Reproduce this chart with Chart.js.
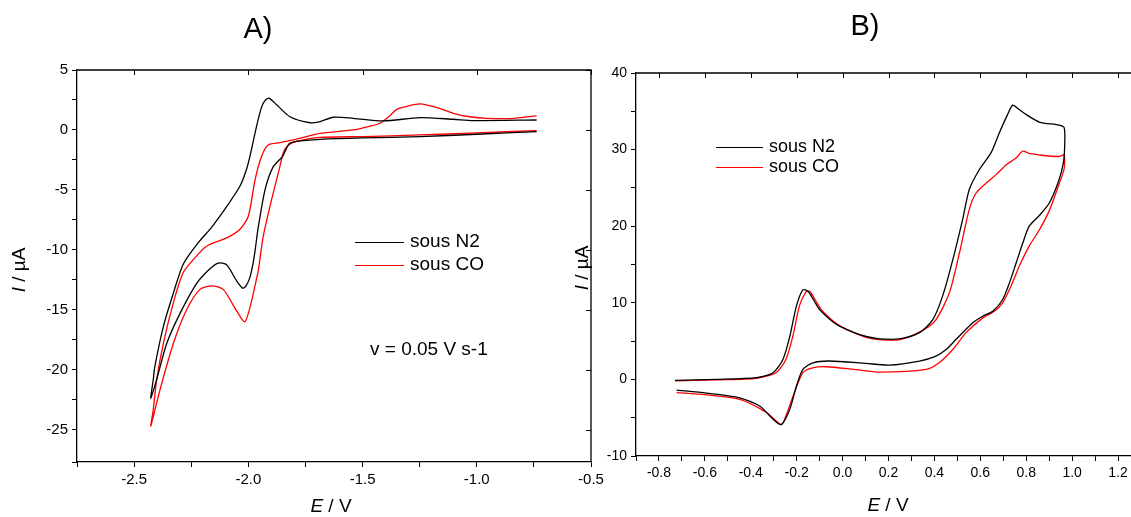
<!DOCTYPE html>
<html><head><meta charset="utf-8">
<script src="https://cdn.jsdelivr.net/npm/chart.js@4/dist/chart.umd.min.js"></script>
<style>
html,body{margin:0;padding:0;overflow:hidden;background:#fff;width:1131px;height:517px;position:relative}
canvas{position:absolute;top:0}
#ca{left:0}#cb{left:565px}
</style></head>
<body>
<canvas id="ca" width="610" height="517"></canvas>
<canvas id="cb" width="580" height="517"></canvas>
<script>
// ---------- Panel A data (E / V, I / µA) ----------
const seriesNames = ['sous N2', 'sous CO'];
const seriesColors = ['#000000', '#ff0000'];

const aN2_E = [-0.738,-1.0,-1.249,-1.5,-1.686,-1.774,-1.818,-1.832,-1.85,-1.892,-1.927,-1.958,-1.97,-1.98,-1.993,-2.01,-2.025,-2.051,-2.095,-2.132,-2.175,-2.226,-2.299,-2.357,-2.401,-2.427,
  -2.416,-2.409,-2.372,-2.328,-2.285,-2.219,-2.16,-2.095,-2.037,-2.01,-1.993,-1.964,-1.942,-1.925,-1.908,-1.876,-1.818,-1.73,-1.686,-1.628,-1.54,-1.409,-1.249,-1.103,-1.015,-0.738];
const aN2_I = [-0.14,-0.36,-0.56,-0.66,-0.78,-0.92,-1.1,-1.5,-2.2,-3.1,-5.0,-8.3,-10.0,-11.2,-12.3,-13.0,-13.2,-12.6,-11.25,-11.1,-11.7,-12.8,-15.3,-17.8,-20.8,-22.4,
  -20.8,-19.7,-16.4,-13.6,-11.2,-9.4,-8.1,-6.4,-4.7,-3.4,-2.2,0.3,1.9,2.5,2.64,2.1,1.1,0.6,0.7,1.06,0.97,0.75,1.03,0.89,0.78,0.83];

const aCO_E = [-0.738,-1.0,-1.249,-1.5,-1.686,-1.759,-1.81,-1.832,-1.847,-1.862,-1.898,-1.935,-1.956,-1.964,-1.985,-2.015,-2.051,-2.11,-2.16,-2.212,-2.27,-2.328,-2.387,-2.427,
  -2.416,-2.401,-2.372,-2.328,-2.285,-2.24,-2.183,-2.095,-2.037,-2.0,-1.971,-1.942,-1.913,-1.862,-1.803,-1.716,-1.686,-1.54,-1.47,-1.424,-1.38,-1.35,-1.3,-1.249,-1.18,-1.103,-1.03,-0.957,-0.85,-0.738];
const aCO_I = [-0.05,-0.25,-0.42,-0.55,-0.62,-0.83,-1.1,-1.4,-1.9,-3.06,-5.8,-8.9,-11.7,-12.4,-14.2,-16.0,-15.1,-13.3,-13.0,-13.3,-15.0,-17.8,-21.7,-24.7,
  -23.3,-20.8,-17.8,-14.4,-11.9,-10.8,-9.7,-9.0,-8.3,-7.2,-4.2,-2.2,-1.25,-1.06,-0.83,-0.42,-0.28,0.0,0.3,0.56,1.2,1.72,2.0,2.17,1.9,1.39,1.1,0.97,0.95,1.17];

const aXTicks = {min: -2.75, max: -0.5, step: 0.25, label: 0.5};
const aYTicks = {min: -27.7, max: 5, step: 2.5, label: 5};

// ---------- Panel B data ----------
const bN2_E = [-0.73,-0.55,-0.375,-0.303,-0.26,-0.23,-0.201,-0.173,-0.151,-0.125,-0.1,-0.05,-0.013,0.05,0.103,0.161,0.248,0.335,0.393,0.436,0.48,0.523,0.552,0.596,0.647,0.683,0.719,0.741,0.762,0.799,0.857,0.943,0.965,
  0.968,0.962,0.94,0.9,0.857,0.813,0.785,0.756,0.727,0.697,0.654,0.61,0.567,0.494,0.451,0.407,0.335,0.204,0.1,-0.057,-0.129,-0.173,-0.201,-0.23,-0.267,-0.303,-0.36,-0.448,-0.593,-0.723];
const bN2_I = [-0.13,0.0,0.22,0.87,2.6,5.6,9.6,11.7,11.5,10.3,9.1,7.7,6.95,6.1,5.6,5.3,5.3,6.1,7.8,10.9,15.6,20.9,24.8,27.4,29.6,32.2,34.6,35.8,35.4,34.6,33.6,33.2,32.9,
  31.0,28.3,25.8,23.0,21.4,20.0,17.8,15.2,12.6,10.4,8.9,8.25,7.4,5.2,3.9,3.04,2.4,1.87,2.1,2.4,2.17,1.3,-0.87,-3.9,-5.9,-5.2,-3.5,-2.4,-1.8,-1.4];

const bCO_E = [-0.73,-0.55,-0.375,-0.29,-0.247,-0.217,-0.188,-0.16,-0.143,-0.12,-0.09,-0.04,0.0,0.103,0.161,0.25,0.349,0.407,0.465,0.509,0.552,0.581,0.625,0.668,0.712,0.756,0.785,0.813,0.857,0.943,0.965,
  0.965,0.943,0.9,0.857,0.813,0.77,0.734,0.697,0.661,0.61,0.538,0.48,0.422,0.364,0.161,0.05,-0.071,-0.13,-0.173,-0.216,-0.245,-0.267,-0.332,-0.448,-0.6,-0.723];
const bCO_I = [-0.2,-0.05,0.15,0.87,2.6,5.6,9.6,11.4,11.5,10.4,9.0,7.6,6.8,5.5,5.2,5.2,6.4,7.8,11.3,16.5,22.2,24.3,25.6,26.7,28.0,28.9,29.8,29.5,29.3,29.1,29.3,
  27.5,25.5,22.0,19.5,17.4,14.8,12.2,10.0,8.9,8.0,6.1,3.9,2.2,1.3,0.95,1.3,1.65,1.5,0.87,-2.2,-4.6,-5.9,-4.3,-2.6,-2.0,-1.73];

const bXTicks = {min: -0.9, max: 1.3, step: 0.1, label: 0.2};
const bYTicks = {min: -10, max: 40, step: 5, label: 10};

// ---------- helpers ----------
const FONT = "'Liberation Sans', Arial, sans-serif";
function pts(E, I) { return E.map((e, i) => ({x: e, y: I[i]})); }
function isMajor(v, m) { const r = v / m; return Math.abs(r - Math.round(r)) < 1e-6; }
function fmt(v, dec) { let r = Math.round(v * 10) / 10; if (Math.abs(r) < 1e-9) r = 0; return r.toFixed(dec); }

function annotPlugin(cfg) {
  return {
    id: 'annot_' + cfg.id,
    afterDraw(chart) {
      const ctx = chart.ctx, ca = chart.chartArea;
      const xs = chart.scales.x, ys = chart.scales.y;
      ctx.save();
      ctx.strokeStyle = '#000'; ctx.lineWidth = 1.3;
      ctx.beginPath();
      ctx.moveTo(ca.left, ca.top); ctx.lineTo(ca.right, ca.top);
      ctx.lineTo(ca.right, ca.bottom);
      ctx.stroke();
      ctx.lineWidth = 1;
      ctx.beginPath();
      xs.ticks.forEach(t => { if (isMajor(t.value, cfg.xt.label)) { const p = Math.round(xs.getPixelForValue(t.value)) + 0.5; ctx.moveTo(p, ca.top); ctx.lineTo(p, ca.top + 5); } });
      ys.ticks.forEach(t => { if (isMajor(t.value, cfg.yt.label)) { const p = Math.round(ys.getPixelForValue(t.value)) + 0.5; ctx.moveTo(ca.right, p); ctx.lineTo(ca.right - 5, p); } });
      ctx.stroke();
      ctx.fillStyle = '#000';
      ctx.textAlign = 'center'; ctx.textBaseline = 'middle';
      ctx.font = '29px ' + FONT;
      ctx.fillText(cfg.title, cfg.titleX, cfg.titleY);
      const TF = cfg.axFont + 'px ' + FONT, TFI = 'italic ' + cfg.axFont + 'px ' + FONT;
      ctx.font = TFI; const w1 = ctx.measureText('E').width;
      ctx.font = TF; const w2 = ctx.measureText(' / V').width;
      const sx = cfg.xTitleX - (w1 + w2) / 2;
      ctx.textAlign = 'left';
      ctx.font = TFI; ctx.fillText('E', sx, cfg.xTitleY);
      ctx.font = TF; ctx.fillText(' / V', sx + w1, cfg.xTitleY);
      ctx.save();
      ctx.translate(cfg.yTitleX, cfg.yTitleY); ctx.rotate(-Math.PI / 2);
      ctx.font = TFI; const v1 = ctx.measureText('I').width;
      ctx.font = TF; const v2 = ctx.measureText(' / µA').width;
      const sy = -(v1 + v2) / 2;
      ctx.font = TFI; ctx.fillText('I', sy, 0);
      ctx.font = TF; ctx.fillText(' / µA', sy + v1, 0);
      ctx.restore();
      ctx.font = cfg.legFont + 'px ' + FONT;
      ctx.textBaseline = 'middle'; ctx.textAlign = 'left';
      chart.data.datasets.forEach((ds, i) => {
        const y = cfg.legY + i * cfg.legDy;
        ctx.strokeStyle = ds.borderColor; ctx.lineWidth = 1.2;
        ctx.beginPath(); ctx.moveTo(cfg.legX, y + 0.5); ctx.lineTo(cfg.legX + cfg.legW, y + 0.5); ctx.stroke();
        ctx.fillStyle = '#000';
        ctx.fillText(ds.label, cfg.legX + cfg.legW + 6, y);
      });
      if (cfg.note) {
        ctx.font = '19px ' + FONT;
        ctx.fillText(cfg.note, cfg.noteX, cfg.noteY);
      }
      ctx.restore();
    }
  };
}

function makeChart(canvasId, sets, xt, yt, geom, cfg) {
  const scaleCommon = {
    type: 'linear',
    grid: {drawOnChartArea: false, drawTicks: true, tickLength: 5, tickColor: '#000', tickWidth: 1},
    border: {color: '#000', width: 1.3},
  };
  return new Chart(document.getElementById(canvasId), {
    type: 'scatter',
    data: {
      datasets: sets.map((s, i) => ({
        label: seriesNames[i], data: pts(s[0], s[1]),
        showLine: true, borderColor: seriesColors[i], backgroundColor: seriesColors[i],
        borderWidth: 1.3, pointRadius: 0, pointHoverRadius: 0, tension: 0.25, fill: false
      }))
    },
    options: {
      responsive: false, animation: false, devicePixelRatio: 1,
      layout: {padding: {left: 0, top: geom.top, right: geom.right, bottom: 0}},
      plugins: {legend: {display: false}, tooltip: {enabled: false}, title: {display: false}},
      scales: {
        x: Object.assign({}, scaleCommon, {
          position: 'bottom', min: xt.min, max: xt.max,
          afterFit: s => { s.height = geom.xh; },
          ticks: {stepSize: xt.step, autoSkip: false, maxRotation: 0, color: '#000', padding: 4,
            font: {family: FONT, size: geom.tf},
            callback: v => isMajor(v, xt.label) ? fmt(v, 1) : ''}
        }),
        y: Object.assign({}, scaleCommon, {
          position: 'left', min: yt.min, max: yt.max,
          afterFit: s => { s.width = geom.yw; },
          ticks: {stepSize: yt.step, autoSkip: false, color: '#000', padding: 4,
            font: {family: FONT, size: geom.tf},
            callback: v => isMajor(v, yt.label) ? String(Math.round(v)) : ''}
        })
      }
    },
    plugins: [annotPlugin(Object.assign({xt, yt}, cfg))]
  });
}

makeChart('ca', [[aN2_E, aN2_I], [aCO_E, aCO_I]], aXTicks, aYTicks,
  {top: 70, right: 19, xh: 55, yw: 77, tf: 15},
  {id: 'A', title: 'A)', titleX: 258, titleY: 30, xTitleX: 331, xTitleY: 507, yTitleX: 20, yTitleY: 270, axFont: 19,
   legX: 355, legY: 242, legDy: 23, legW: 49, legFont: 19,
   note: 'v = 0.05 V s-1', noteX: 370, noteY: 350});

makeChart('cb', [[bN2_E, bN2_I], [bCO_E, bCO_I]], bXTicks, bYTicks,
  {top: 73, right: 3, xh: 61, yw: 71, tf: 14},
  {id: 'B', title: 'B)', titleX: 300, titleY: 27, xTitleX: 323, xTitleY: 506, yTitleX: 18, yTitleY: 268, axFont: 19,
   legX: 151, legY: 147, legDy: 20, legW: 47, legFont: 18});
</script>
</body></html>
